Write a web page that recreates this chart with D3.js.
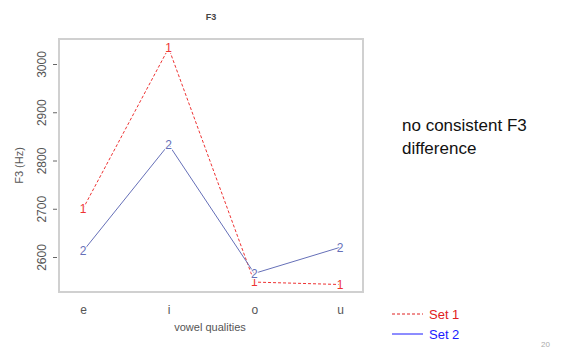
<!DOCTYPE html>
<html>
<head>
<meta charset="utf-8">
<script src="https://cdn.jsdelivr.net/npm/d3@7"></script>
<style>
  body { margin: 0; background: #fff; }
  svg { display: block; font-family: "Liberation Sans", Arial, sans-serif; }
</style>
</head>
<body>
<div class="graph"></div>
<script>
// chart data
var vowels = ["e", "i", "o", "u"];
var set1 = [2700, 3033, 2548, 2543];
var set2 = [2612, 2833, 2566, 2620];
var yTicks = [2600, 2700, 2800, 2900, 3000];
var legendLabels = ["Set 1", "Set 2"];

window.onload = () => {
  var width = 563, height = 349;

  var svg = d3.select(".graph").append("svg")
    .attr("width", width)
    .attr("height", height);

  // plot box
  var box = { left: 59, right: 363, top: 39, bottom: 292 };

  var x = d3.scalePoint().domain(vowels).range([83, 340]);
  var y = d3.scaleLinear().domain([2600, 3000]).range([257, 64]);

  svg.append("rect")
    .attr("x", box.left).attr("y", box.top)
    .attr("width", box.right - box.left).attr("height", box.bottom - box.top)
    .attr("fill", "none").attr("stroke", "#d0d0d0").attr("stroke-width", 2);

  // y axis, labels rotated like R's default
  var yAxis = svg.append("g")
    .attr("transform", "translate(" + (box.left - 2) + ",0)")
    .call(d3.axisLeft(y).tickValues(yTicks).tickFormat(d3.format("d")).tickSize(4));
  yAxis.select(".domain").remove();
  yAxis.selectAll("line").attr("stroke", "#666");
  yAxis.selectAll("text")
    .attr("x", 0).attr("dy", "0.35em").attr("text-anchor", "middle")
    .attr("transform", "translate(-15,0) rotate(-90)")
    .attr("fill", "#555").style("font-size", "12px");

  // x axis labels
  var xAxis = svg.append("g")
    .attr("transform", "translate(0," + box.bottom + ")")
    .call(d3.axisBottom(x).tickSize(0).tickPadding(13));
  xAxis.select(".domain").remove();
  xAxis.selectAll("text").attr("fill", "#555").style("font-size", "12px");

  // titles
  svg.append("text").attr("x", 211).attr("y", 20).attr("text-anchor", "middle")
    .style("font-size", "9px").style("font-weight", "bold").attr("fill", "#444").text("F3");
  svg.append("text").attr("x", 210).attr("y", 331).attr("text-anchor", "middle")
    .style("font-size", "11px").attr("fill", "#555").text("vowel qualities");
  svg.append("text")
    .attr("transform", "translate(23," + ((box.top + box.bottom) / 2) + ") rotate(-90)")
    .attr("text-anchor", "middle").style("font-size", "11px").attr("fill", "#555").text("F3 (Hz)");

  // series
  var series = [
    { vals: set1, color: "#ee3333", dash: "3,2", sym: "1" },
    { vals: set2, color: "#6670b8", dash: null, sym: "2" }
  ];

  var line = d3.line()
    .x(function (d, i) { return x(vowels[i]); })
    .y(function (d) { return y(d); });

  series.forEach(function (s) {
    svg.append("path")
      .datum(s.vals)
      .attr("d", line)
      .attr("fill", "none")
      .attr("stroke", s.color)
      .attr("stroke-width", 1)
      .attr("stroke-dasharray", s.dash);
  });

  series.forEach(function (s) {
    svg.append("g").selectAll("text")
      .data(s.vals)
      .enter().append("text")
      .attr("x", function (d, i) { return x(vowels[i]); })
      .attr("y", function (d) { return y(d); })
      .attr("dy", "0.35em")
      .attr("text-anchor", "middle")
      .style("font-size", "12px")
      .attr("fill", s.color)
      .attr("stroke", "#fff").attr("stroke-width", 2).attr("paint-order", "stroke")
      .text(s.sym);
  });

  // annotation
  var note = svg.append("text").style("font-size", "17px").attr("fill", "#111");
  note.append("tspan").attr("x", 402).attr("y", 131).text("no consistent F3");
  note.append("tspan").attr("x", 402).attr("y", 154).text("difference");

  // legend
  var legColors = ["#e02020", "#1a1aff"];
  var legDash = ["3,2", null];
  legendLabels.forEach(function (lab, i) {
    var ly = 314 + i * 20;
    svg.append("line")
      .attr("x1", 392).attr("x2", 423).attr("y1", ly).attr("y2", ly)
      .attr("stroke", legColors[i]).attr("stroke-width", 1)
      .attr("stroke-dasharray", legDash[i]);
    svg.append("text").attr("x", 429).attr("y", ly).attr("dy", "0.35em")
      .style("font-size", "13px").attr("fill", legColors[i]).text(lab);
  });

  // page number at the slide corner
  svg.append("text").attr("x", 541).attr("y", 347)
    .style("font-size", "8px").attr("fill", "#aaa").text("20");
};
</script>
</body>
</html>
